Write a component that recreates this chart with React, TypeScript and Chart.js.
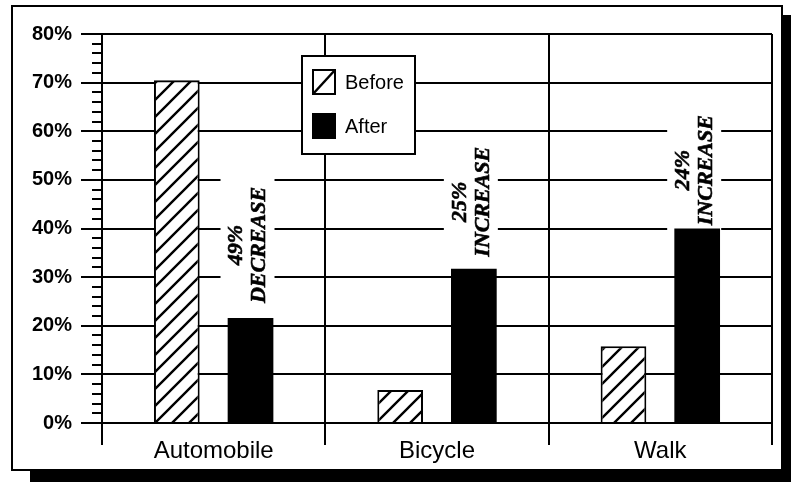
import React, { useEffect, useRef } from "react";
import { Chart, registerables } from "chart.js";

Chart.register(...registerables);

const categories = ["Automobile", "Bicycle", "Walk"];
const beforeValues = [70.5, 6.8, 15.8];
const afterValues = [21.6, 31.7, 40];
const seriesLabels = ["Before", "After"];
const changeLabels = [
  ["49%", "DECREASE"],
  ["25%", "INCREASE"],
  ["24%", "INCREASE"],
];
const changeLabelAt = [36.6, 45.5, 52];
const yMin = 0;
const yMax = 80;
const yStep = 2;
const yMajor = 10;

function makeHatch(): CanvasPattern | string {
  const s = 17;
  const c = document.createElement("canvas");
  c.width = s;
  c.height = s;
  const g = c.getContext("2d");
  if (!g) return "#fff";
  g.fillStyle = "#fff";
  g.fillRect(0, 0, s, s);
  g.strokeStyle = "#000";
  g.lineWidth = 2.4;
  g.beginPath();
  g.moveTo(-2, s + 2);
  g.lineTo(s + 2, -2);
  g.moveTo(-2, 2);
  g.lineTo(2, -2);
  g.moveTo(s - 2, s + 2);
  g.lineTo(s + 2, s - 2);
  g.stroke();
  const p = g.createPattern(c, "repeat");
  return p || "#fff";
}

export default function App() {
  const ref = useRef<HTMLCanvasElement | null>(null);

  useEffect(() => {
    document.body.style.margin = "0";
    const canvas = ref.current;
    if (!canvas) return;
    const hatch = makeHatch();

    const framePlugin = {
      id: "frame",
      beforeDraw(chart: any) {
        const ctx = chart.ctx;
        ctx.save();
        ctx.fillStyle = "#fff";
        ctx.fillRect(0, 0, chart.width, chart.height);
        ctx.fillStyle = "#000";
        ctx.fillRect(30, 15, chart.width - 30, chart.height - 15);
        ctx.fillStyle = "#fff";
        ctx.fillRect(11, 5, 772, 466);
        ctx.strokeStyle = "#000";
        ctx.lineWidth = 2;
        ctx.strokeRect(12, 6, 770, 464);
        ctx.restore();
      },
    };

    const majorTickPlugin = {
      id: "majorTicks",
      afterDraw(chart: any) {
        const ctx = chart.ctx;
        const y = chart.scales.y;
        const left = chart.chartArea.left;
        ctx.save();
        ctx.strokeStyle = "#000";
        ctx.lineWidth = 2;
        for (let v = yMin; v <= yMax; v += yMajor) {
          const py = Math.round(y.getPixelForValue(v));
          ctx.beginPath();
          ctx.moveTo(left - 21, py);
          ctx.lineTo(left, py);
          ctx.stroke();
        }
        ctx.restore();
      },
    };

    const changePlugin = {
      id: "changeLabels",
      beforeDatasetsDraw(chart: any) {
        const ctx = chart.ctx;
        const meta = chart.getDatasetMeta(1);
        const y = chart.scales.y;
        ctx.save();
        ctx.font = "bold italic 22px 'Liberation Serif', 'Times New Roman', serif";
        changeLabels.forEach((lines, i) => {
          const el = meta.data[i];
          const cx = el.x - 3;
          const cy = y.getPixelForValue(changeLabelAt[i]);
          const w = Math.max(...lines.map((t) => ctx.measureText(t).width));
          ctx.fillStyle = "#fff";
          ctx.fillRect(cx - 27, cy - w / 2 - 11, 54, w + 22);
          ctx.save();
          ctx.translate(cx, cy);
          ctx.rotate(-Math.PI / 2);
          ctx.fillStyle = "#000";
          ctx.strokeStyle = "#000";
          ctx.lineWidth = 0.6;
          ctx.textAlign = "center";
          ctx.textBaseline = "middle";
          ctx.fillText(lines[0], 0, -11);
          ctx.strokeText(lines[0], 0, -11);
          ctx.fillText(lines[1], 0, 12);
          ctx.strokeText(lines[1], 0, 12);
          ctx.restore();
        });
        ctx.restore();
      },
    };

    const legendPlugin = {
      id: "boxLegend",
      afterDraw(chart: any) {
        const ctx = chart.ctx;
        const a = chart.chartArea;
        const x0 = a.left + 200;
        const y0 = a.top + 22;
        const w = 113;
        const h = 98;
        ctx.save();
        ctx.fillStyle = "#fff";
        ctx.fillRect(x0, y0, w, h);
        ctx.strokeStyle = "#000";
        ctx.lineWidth = 2;
        ctx.strokeRect(x0, y0, w, h);
        const sx = x0 + 11;
        const sy1 = y0 + 14;
        const sw = 22;
        const sh = 24;
        ctx.fillStyle = "#fff";
        ctx.fillRect(sx, sy1, sw, sh);
        ctx.strokeRect(sx, sy1, sw, sh);
        ctx.beginPath();
        ctx.moveTo(sx, sy1 + sh);
        ctx.lineTo(sx + sw, sy1);
        ctx.lineWidth = 2.5;
        ctx.stroke();
        const sy2 = y0 + 58;
        ctx.fillStyle = "#000";
        ctx.fillRect(sx - 1, sy2 - 1, sw + 2, sh + 2);
        ctx.font = "20px 'Liberation Sans', Arial, sans-serif";
        ctx.textAlign = "left";
        ctx.textBaseline = "middle";
        ctx.fillStyle = "#000";
        ctx.fillText(seriesLabels[0], sx + sw + 10, sy1 + sh / 2 + 1);
        ctx.fillText(seriesLabels[1], sx + sw + 10, sy2 + sh / 2 + 1);
        ctx.restore();
      },
    };

    const chart = new Chart(canvas, {
      type: "bar",
      data: {
        labels: categories,
        datasets: [
          {
            label: seriesLabels[0],
            data: beforeValues,
            backgroundColor: hatch as any,
            borderColor: "#000",
            borderWidth: 2,
            categoryPercentage: 0.66,
            barPercentage: 0.62,
          },
          {
            label: seriesLabels[1],
            data: afterValues,
            backgroundColor: "#000",
            borderColor: "#000",
            borderWidth: 0,
            categoryPercentage: 0.66,
            barPercentage: 0.62,
          },
        ],
      },
      options: {
        animation: false,
        responsive: false,
        maintainAspectRatio: false,
        layout: { padding: { left: 0, top: 34, right: 19, bottom: 0 } },
        plugins: {
          legend: { display: false },
          tooltip: { enabled: false },
        },
        scales: {
          x: {
            offset: true,
            grid: {
              offset: true,
              color: "#000",
              lineWidth: 2,
              tickLength: 22,
              drawTicks: true,
            },
            border: { display: true, color: "#000", width: 2 },
            ticks: {
              color: "#000",
              font: { family: "'Liberation Sans', Arial, sans-serif", size: 24 },
              padding: -8,
            },
            afterFit: (scale: any) => {
              scale.height = 59;
            },
          },
          y: {
            min: yMin,
            max: yMax,
            grid: {
              color: (ctx: any) =>
                Math.round(ctx.tick.value) % yMajor === 0 ? "#000" : "rgba(0,0,0,0)",
              tickColor: "#000",
              lineWidth: 2,
              tickWidth: 2,
              tickLength: 10,
            },
            border: { display: true, color: "#000", width: 2 },
            ticks: {
              stepSize: yStep,
              autoSkip: false,
              padding: 20,
              color: "#000",
              font: {
                family: "'Liberation Sans', Arial, sans-serif",
                size: 20,
                weight: "bold",
              },
              callback: (v: any) =>
                Math.round(Number(v)) % yMajor === 0 ? `${Math.round(Number(v))}%` : "",
            },
            afterFit: (scale: any) => {
              scale.width = 102;
            },
          },
        },
      },
      plugins: [framePlugin, changePlugin, majorTickPlugin, legendPlugin],
    });

    return () => chart.destroy();
  }, []);

  return (
    <div style={{ width: 791, height: 482 }}>
      <canvas ref={ref} width={791} height={482} style={{ display: "block" }} />
    </div>
  );
}
